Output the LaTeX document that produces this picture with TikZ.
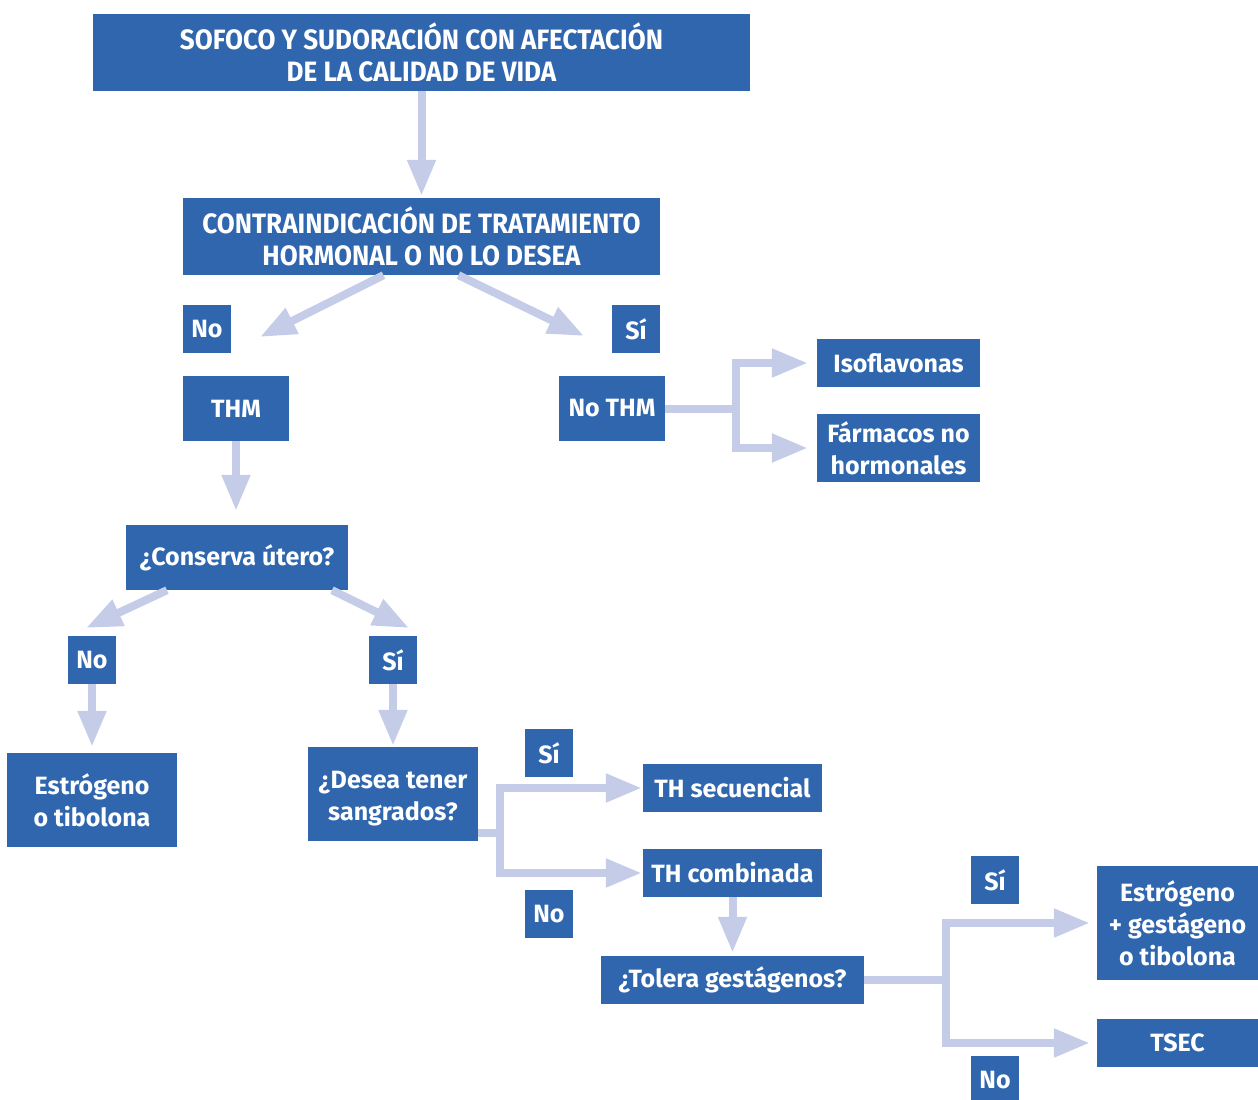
\documentclass[tikz,border=0pt]{standalone}
\usepackage{fontspec}
\setmainfont{Fira Sans}
\newfontfamily\capsfont[FakeStretch=0.93]{Fira Sans}
\usetikzlibrary{arrows.meta,calc}
\definecolor{boxblue}{HTML}{2F66AE}
\definecolor{arrowlav}{HTML}{C5CCE8}
\begin{document}
\begin{tikzpicture}[x=1pt,y=-1pt,
  boxtext/.style={text=white,inner sep=0pt,align=center,
    font=\bfseries\fontsize{25}{32}\selectfont},
  box/.style={fill=boxblue,boxtext},
  capsbox/.style={box,font=\capsfont\bfseries\fontsize{28}{32}\selectfont},
  sz/.style 2 args={minimum width=#1pt,minimum height=#2pt},
  arr/.style={draw=arrowlav,line width=8pt,line join=miter,
    -{Triangle[length=36pt,width=27pt,fill=arrowlav]}}]
\useasboundingbox (0,0) rectangle (1258,1100);

% boxes (centre and size)
\node[capsbox,sz={657}{77}] (top) at (421.5,52.5) {SOFOCO Y SUDORACIÓN CON AFECTACIÓN\\DE LA CALIDAD DE VIDA};
\node[capsbox,sz={477}{77}] (contra) at (421.5,236.5) {CONTRAINDICACIÓN DE TRATAMIENTO\\HORMONAL O NO LO DESEA};
\node[box,sz={48}{48}] (no1) at (207,329) {No};
\node[box,sz={48}{48}] (si1) at (636,329) {Sí};
\node[box,sz={106}{65}] (thm) at (236,408.5) {THM};
\node[box,sz={106}{65}] (nothm) at (612,408.5) {No THM};
\node[box,sz={163}{48}] (iso) at (898.5,363) {Isoflavonas};
\node[box,sz={163}{68}] (farm) at (898.5,448) {Fármacos no\\hormonales};
\node[box,sz={222}{65}] (cons) at (237,557.5) {¿Conserva útero?};
\node[box,sz={48}{48}] (no2) at (92,660) {No};
\node[box,sz={48}{48}] (si2) at (393,660) {Sí};
\node[box,sz={170}{94}] (estr) at (92,800) {Estrógeno\\o tibolona};
\node[box,sz={170}{94},
  label={[boxtext,yshift=-5pt]center:¿Desea tener\\sangrados?}] (desea) at (393,794) {};
\node[box,sz={48}{48}] (si3) at (549,753) {Sí};
\node[box,sz={179}{48}] (thsec) at (732.5,788) {TH secuencial};
\node[box,sz={179}{48}] (thcomb) at (732.5,873) {TH combinada};
\node[box,sz={48}{48}] (no3) at (549,914) {No};
\node[box,sz={263}{48}] (tol) at (732.5,980) {¿Tolera gestágenos?};
\node[box,sz={48}{48}] (si4) at (995,880) {Sí};
\node[box,sz={161}{114}] (estgest) at (1177.5,923) {Estrógeno\\+ gestágeno\\o tibolona};
\node[box,sz={161}{48}] (tsec) at (1177.5,1043) {TSEC};
\node[box,sz={48}{48}] (no4) at (995,1080) {No};

% free ends of the diagonal arrows
\coordinate (tipNo1) at (260,337);
\coordinate (tipSi1) at (584,336);
\coordinate (tipNo2) at (86,628);
\coordinate (tipSi2) at (409,628);

% connectors
\draw[arr,shorten >=2pt] (top.south) -- (top.south |- contra.north);
\draw[arr] ([xshift=-38pt]contra.south) -- (tipNo1);
\draw[arr] ([xshift=37pt]contra.south) -- (tipSi1);
\draw[arr,shorten >=14pt] (thm.south) -- (thm.south |- cons.north);
\draw[arr] ([xshift=-70pt]cons.south) -- (tipNo2);
\draw[arr] ([xshift=95pt]cons.south) -- (tipSi2);
\draw[arr,shorten >=6pt] (no2.south) -- (no2.south |- estr.north);
\draw[arr,shorten >=1pt] (si2.south) -- (si2.south |- desea.north);
\draw[arr,shorten >=3pt] (thcomb.south) -- (thcomb.south |- tol.north);

% branching connectors
\draw[arr,shorten >=9pt] (nothm.east) -- ++(71,0) |- (iso.west);
\draw[arr,shorten >=9pt] (nothm.east) -- ++(71,0) |- (farm.west);
\draw[arr,shorten >=1pt] ([yshift=-39pt]desea.east) -- ++(22,0) |- (thsec.west);
\draw[arr,shorten >=1pt] ([yshift=-39pt]desea.east) -- ++(22,0) |- (thcomb.west);
\draw[arr,shorten >=7pt] (tol.east) -- ++(82,0) |- (estgest.west);
\draw[arr,shorten >=7pt] (tol.east) -- ++(82,0) |- (tsec.west);
\end{tikzpicture}
\end{document}
